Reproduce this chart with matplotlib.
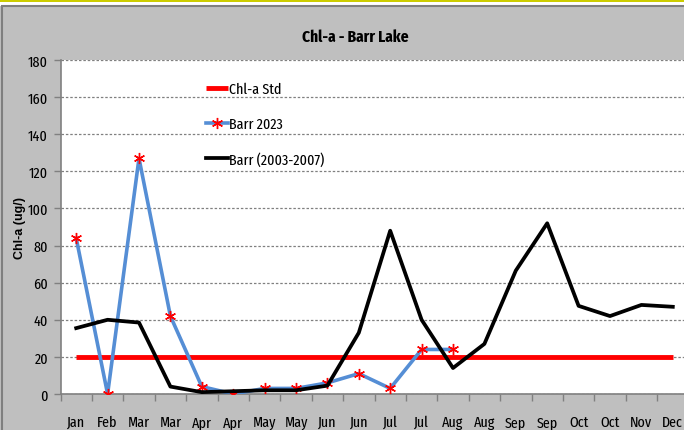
import matplotlib
matplotlib.use("Agg")
import matplotlib.pyplot as plt
from matplotlib.patches import Rectangle
import numpy as np

FONT = ['Fira Sans Extra Condensed', 'DejaVu Sans']
plt.rcParams['font.family'] = FONT

months = ["Jan", "Feb", "Mar", "Mar", "Apr", "Apr", "May", "May", "Jun", "Jun",
          "Jul", "Jul", "Aug", "Aug", "Sep", "Sep", "Oct", "Oct", "Nov", "Dec"]
chla_std = [20] * 20
barr_2023 = [84, 0, 127, 42, 4, 0, 3, 3, 6, 11, 3, 24, 24]
barr_hist = [35.5, 40, 38.5, 4, 1, 1.5, 2, 2, 4.5, 33, 88, 40, 14, 27, 66.5, 92, 47.5, 42, 48, 47]
yticks = [0, 20, 40, 60, 80, 100, 120, 140, 160, 180]

W, H = 684, 431
fig = plt.figure(figsize=(W / 100, H / 100), dpi=100)
fig.patch.set_facecolor("white")

# background frame
fig.patches.append(Rectangle((0, 0), 1, 1 - 3 / H, transform=fig.transFigure,
                             facecolor="#BFBFBF", edgecolor="none", zorder=-3))
fig.patches.append(Rectangle((0, 1 - 6.5 / H), 1, 6.5 / H, transform=fig.transFigure,
                             facecolor="white", edgecolor="none", zorder=-2))
fig.patches.append(Rectangle((0, 1 - 3 / H), 1, 3 / H, transform=fig.transFigure,
                             facecolor="#CCCC00", edgecolor="none", zorder=-1))
fig.patches.append(Rectangle((1.5 / W, -0.01), 1.2, 1 - 6.5 / H + 0.01, transform=fig.transFigure,
                             facecolor="none", edgecolor="#7F7F7F", linewidth=1.5, zorder=0))

left, right, top, bottom = 60.5, 688.5, 61, 395
ax = fig.add_axes([left / W, (H - bottom) / H, (right - left) / W, (bottom - top) / H])
ax.set_facecolor("white")

x = np.arange(len(months))
ax.plot(x, chla_std, color="#FF0000", lw=3.5, solid_capstyle="butt", label="Chl-a Std", zorder=3)
ax.plot(np.arange(len(barr_2023)), barr_2023, color="#558ED5", lw=2.6,
        marker=(6, 2, 0), markersize=8, markeredgecolor="#FF0000", markerfacecolor="#FF0000",
        markeredgewidth=1.0, label="Barr 2023", zorder=4)
ax.plot(x, barr_hist, color="black", lw=2.7, label="Barr (2003-2007)", zorder=5)

ax.set_xlim(-0.5, len(months) - 0.5)
ax.set_ylim(0, 180)
ax.set_yticks(yticks)
ax.set_yticklabels([str(v) for v in yticks], fontsize=11)
ax.set_xticks(x)
ax.set_xticklabels(months, fontsize=11)
ax.tick_params(axis="x", which="major", length=0, pad=15)
ax.set_xticks(np.arange(-0.5, len(months), 1), minor=True)
ax.tick_params(axis="x", which="minor", length=5, color="#808080", width=1)
ax.tick_params(axis="y", length=5, color="#808080", width=1, pad=4)

ax.yaxis.grid(True, linestyle=(0, (2, 1.5)), color="#808080", linewidth=0.9)
ax.set_axisbelow(True)
for s in ["top", "right"]:
    ax.spines[s].set_visible(False)
for s in ["left", "bottom"]:
    ax.spines[s].set_color("#808080")
    ax.spines[s].set_linewidth(1.2)

ax.set_ylabel("Chl-a (ug/)", fontsize=9, fontweight="bold", family=["Liberation Sans", "DejaVu Sans"])
ax.yaxis.set_label_coords((26 - left) / (right - left), 0.5)
fig.text(355 / W, 1 - 37 / H, "Chl-a - Barr Lake", ha="center", va="center",
         fontsize=12, fontweight="bold")

leg = ax.legend(loc="upper left", bbox_to_anchor=((200 - left) / (right - left), 1 - (77 - top) / (bottom - top)),
                frameon=False, fontsize=11, handlelength=1.4, handletextpad=0.1,
                labelspacing=1.35, borderaxespad=0)

fig.savefig("out.png", dpi=100, facecolor=fig.get_facecolor())
